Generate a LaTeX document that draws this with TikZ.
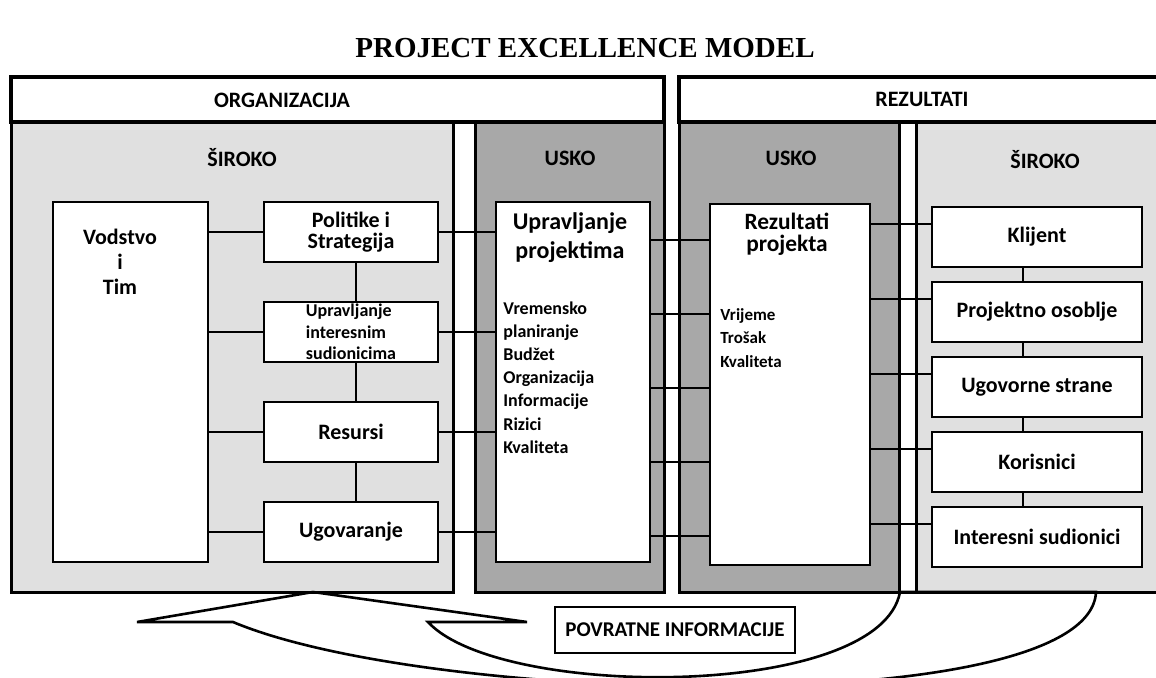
\documentclass[tikz,border=0pt]{standalone}
\usepackage{fontspec}
\setmainfont{Carlito}
\newfontfamily\titlefont{Liberation Serif}
\usetikzlibrary{calc}
\definecolor{lightarea}{HTML}{E0E0E0}
\definecolor{darkarea}{HTML}{A8A8A8}
\begin{document}
\begin{tikzpicture}[x=0.5pt,y=-0.5pt,
  area/.style={draw,line width=1.5pt},
  head/.style={draw,line width=1.7pt,fill=white},
  lbl/.style={font=\fontsize{11}{11}\selectfont\bfseries},
  cell/.style={draw,line width=1pt,fill=white,inner sep=0pt,minimum width=87pt,minimum height=30pt,align=center,font=\fontsize{11}{10.5}\selectfont\bfseries},
  rcell/.style={cell,minimum width=105pt},
  tall/.style={draw,line width=1pt,fill=white,minimum height=180pt},
  link/.style={line width=1pt}]
\useasboundingbox (0,0) rectangle (1156,677);
\clip (0,0) rectangle (1156,677);
\node[font=\titlefont\bfseries\fontsize{14.5}{14.5}\selectfont] (title) at (585,48) {PROJECT EXCELLENCE MODEL};
\draw[area,fill=lightarea] (11,122) rectangle (453,592);
\draw[area,fill=darkarea] (475,122) rectangle (664,592);
\draw[area,fill=darkarea] (679,122) rectangle (899,592);
\draw[area,fill=lightarea] (916,122) rectangle (1170,592);
\draw[area] (899,592) -- (916,592);
\draw[head] (11,77) rectangle (664,122);
\draw[head] (679,77) rectangle (1170,122);
\node[lbl] (org) at (282,100) {ORGANIZACIJA};
\node[lbl] (rez) at (922,99) {REZULTATI};
\node[lbl] (sirL) at (242,158) {ŠIROKO};
\node[lbl] (uskL) at (570,158) {USKO};
\node[lbl] (uskR) at (791,158) {USKO};
\node[lbl] (sirR) at (1045,160) {ŠIROKO};
\node[tall,minimum width=77.5pt] (vt) at (130.5,382) {};
\node[lbl,align=center,font=\fontsize{11}{12.5}\selectfont\bfseries] (vtt) at (120,262) {Vodstvo\\i\\Tim};
\node[cell] (ps) at (351,232) {Politike i\\Strategija};
\node[cell,align=left,font=\fontsize{9}{10.7}\selectfont\bfseries] (ui) at (351,332) {Upravljanje\\interesnim\\sudionicima};
\node[cell] (rs) at (351,432) {Resursi};
\node[cell] (ug) at (351,532) {Ugovaranje};
\node[tall,minimum width=77pt] (up) at (573,382) {};
\node[align=center,font=\fontsize{12}{14.5}\selectfont\bfseries] (upt) at (570,238) {Upravljanje\\projektima};
\node[anchor=west,align=left,inner sep=0pt,font=\fontsize{9}{11.6}\selectfont\bfseries] (upl) at (503,377.5) {Vremensko\\planiranje\\Budžet\\Organizacija\\Informacije\\Rizici\\Kvaliteta};
\node[tall,minimum width=80pt,minimum height=180.5pt] (rp) at (790,384.5) {};
\node[align=center,font=\fontsize{11.7}{11}\selectfont\bfseries] (rpt) at (787,234) {Rezultati\\projekta};
\node[anchor=west,align=left,inner sep=0pt,font=\fontsize{8.5}{11.7}\selectfont\bfseries] (rpl) at (720,338) {Vrijeme\\Trošak\\Kvaliteta};
\node[rcell] (kl) at (1037,237) {Klijent};
\node[rcell] (po) at (1037,312) {Projektno osoblje};
\node[rcell] (us) at (1037,387) {Ugovorne strane};
\node[rcell] (ko) at (1037,462) {Korisnici};
\node[rcell] (is) at (1037,537) {Interesni sudionici};
\foreach \b in {ps,ui,rs,ug}{
  \draw[link] (vt.east |- \b.west) -- (\b.west);
  \draw[link] (\b.east) -- (up.west |- \b.east);
}
\foreach \a/\b in {ps/ui,ui/rs,rs/ug}
  \draw[link] ([xshift=2.5pt]\a.south) -- ([xshift=2.5pt]\b.north);
\foreach \y in {240,314,388,462,536}
  \draw[link] (up.east |- 0,\y) -- (rp.west |- 0,\y);
\foreach \b in {kl,po,us,ko,is}
  \draw[link] ($(rp.east |- \b.west)+(0,-13)$) -- ($(\b.west)+(0,-13)$);
\foreach \a/\b in {kl/po,po/us,us/ko,ko/is}
  \draw[link] ([xshift=-7pt]\a.south) -- ([xshift=-7pt]\b.north);
\draw[line width=1.3pt,line join=miter] (313,592) -- (137,622) -- (233,622)
  .. controls (433,706) and (1090,720) .. (1096,592) -- (900,592)
  .. controls (880,700) and (500,700) .. (428,622) -- (527,622) -- cycle;
\node[draw,line width=0.8pt,fill=white,minimum width=120pt,minimum height=23pt,lbl,font=\fontsize{10.5}{10.5}\selectfont\bfseries] (fb) at (675,630) {POVRATNE INFORMACIJE};
\end{tikzpicture}
\end{document}
